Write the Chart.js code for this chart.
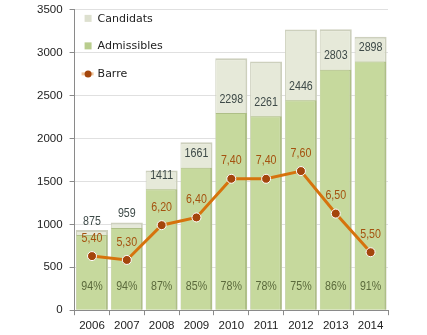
<!DOCTYPE html>
<html>
<head>
<meta charset="utf-8">
<script src="https://cdn.jsdelivr.net/npm/chart.js@4.4.0/dist/chart.umd.min.js"></script>
<style>
  html, body { margin: 0; padding: 0; background: #fff; }
</style>
</head>
<body>
<canvas id="chart" width="427" height="335"></canvas>
<script>
// Data
const years = ['2006', '2007', '2008', '2009', '2010', '2011', '2012', '2013', '2014'];
const candidats = [936, 1021, 1628, 1958, 2935, 2898, 3270, 3275, 3188];
const admissibles = [875, 959, 1411, 1661, 2298, 2261, 2446, 2803, 2898];
const tauxAdmis = [94, 94, 87, 85, 78, 78, 75, 86, 91];
const barre = [5.40, 5.30, 6.20, 6.40, 7.40, 7.40, 7.60, 6.50, 5.50];

const labelFont = '13px "Liberation Sans", Arial, sans-serif';

// draws a condensed text, centered on x, middle on y
function narrowText(ctx, text, x, y, color) {
  ctx.save();
  ctx.translate(x, y);
  ctx.scale(0.82, 1);
  ctx.font = labelFont;
  ctx.fillStyle = color;
  ctx.textAlign = 'center';
  ctx.textBaseline = 'middle';
  ctx.fillText(text, 0, 0);
  ctx.restore();
}

// Value labels on bars and line
const valueLabels = {
  id: 'valueLabels',
  afterDatasetsDraw(chart) {
    const ctx = chart.ctx;
    const adm = chart.getDatasetMeta(1).data;
    const line = chart.getDatasetMeta(0).data;
    const bottom = chart.chartArea.bottom;
    adm.forEach((bar, i) => {
      narrowText(ctx, String(admissibles[i]), bar.x, bar.y - 14, '#3e4a48');
      narrowText(ctx, tauxAdmis[i] + '%', bar.x, bottom - 24, '#5b6a3c');
    });
    line.forEach((pt, i) => {
      narrowText(ctx, barre[i].toFixed(2).replace('.', ','), pt.x, pt.y - 18, '#a4520f');
    });
  }
};

// Legend drawn inside the plot area, top left
const innerLegend = {
  id: 'innerLegend',
  afterDraw(chart) {
    const ctx = chart.ctx;
    const x = chart.chartArea.left + 10;
    const y = chart.chartArea.top + 9;
    const step = 27.5;
    ctx.save();
    ctx.font = '11px "DejaVu Sans", sans-serif';
    ctx.textBaseline = 'middle';
    ctx.textAlign = 'left';

    ctx.fillStyle = '#dde0cf';
    ctx.fillRect(x, y - 4, 7, 7);
    ctx.fillStyle = '#b9cd8e';
    ctx.fillRect(x, y + step - 4, 7, 7);

    ctx.strokeStyle = '#efc49a';
    ctx.lineWidth = 3;
    ctx.beginPath();
    ctx.moveTo(x - 3, y + step * 2);
    ctx.lineTo(x + 9, y + step * 2);
    ctx.stroke();
    ctx.beginPath();
    ctx.arc(x + 3.5, y + step * 2, 3.5, 0, Math.PI * 2);
    ctx.fillStyle = '#a4460c';
    ctx.fill();

    ctx.fillStyle = '#222';
    ctx.fillText('Candidats', x + 13, y);
    ctx.fillText('Admissibles', x + 13, y + step);
    ctx.fillText('Barre', x + 13, y + step * 2);
    ctx.restore();
  }
};

const ctx = document.getElementById('chart').getContext('2d');
new Chart(ctx, {
  type: 'bar',
  data: {
    labels: years,
    datasets: [
      {
        type: 'line',
        label: 'Barre',
        data: barre,
        yAxisID: 'y2',
        order: 0,
        borderColor: '#d6730d',
        borderWidth: 3,
        pointRadius: 4.5,
        pointBackgroundColor: '#a4460c',
        pointBorderColor: '#ffffff',
        pointBorderWidth: 1,
        tension: 0
      },
      {
        label: 'Admissibles',
        data: admissibles,
        order: 1,
        grouped: false,
        backgroundColor: '#c6d99d',
        borderColor: '#aebf86',
        borderWidth: { top: 1, right: 2, left: 0, bottom: 0 },
        borderSkipped: 'bottom',
        barPercentage: 0.9,
        categoryPercentage: 1
      },
      {
        label: 'Candidats',
        data: candidats,
        order: 2,
        grouped: false,
        backgroundColor: '#e6e9d9',
        borderColor: '#cdd0bd',
        borderWidth: { top: 2, right: 2, left: 1, bottom: 0 },
        borderSkipped: 'bottom',
        barPercentage: 0.92,
        categoryPercentage: 1
      }
    ]
  },
  options: {
    responsive: false,
    animation: false,
    devicePixelRatio: 1,
    layout: { padding: { top: 9, right: 39, left: 30, bottom: -2 } },
    plugins: {
      legend: { display: false },
      tooltip: { enabled: false }
    },
    scales: {
      x: {
        grid: { drawOnChartArea: false, tickLength: 5, color: '#8a8a8a' },
        border: { color: '#8a8a8a' },
        ticks: { color: '#222', padding: 4, font: { size: 11.5, family: '"Liberation Sans", Arial, sans-serif' } }
      },
      y: {
        min: 0,
        max: 3500,
        ticks: {
          stepSize: 500,
          color: '#222',
          padding: 7,
          font: { size: 11.5, lineHeight: 0.5, family: '"Liberation Sans", Arial, sans-serif' },
          callback: (v) => String(v)
        },
        grid: { color: '#e0e0e0', tickLength: 5, tickColor: '#8a8a8a' },
        border: { color: '#8a8a8a' }
      },
      y2: {
        display: false,
        min: 4,
        max: 11.77
      }
    }
  },
  plugins: [valueLabels, innerLegend]
});
</script>
</body>
</html>
